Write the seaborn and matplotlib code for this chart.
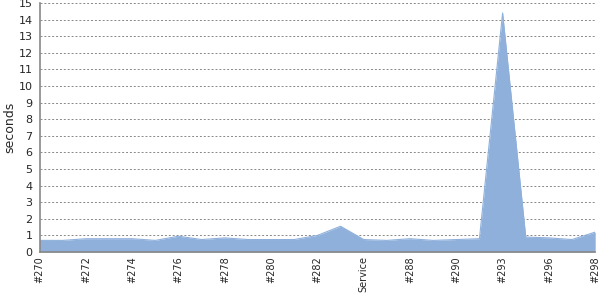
import matplotlib
matplotlib.use("Agg")
import matplotlib.pyplot as plt
import seaborn as sns
import pandas as pd

labels = ["#270", "#271", "#272", "#273", "#274", "#275", "#276", "#277", "#278", "#279",
          "#280", "#281", "#282", "#283", "Service", "#287", "#288", "#289", "#290", "#291",
          "#293", "#294", "#296", "#297", "#298"]
seconds = [0.7, 0.7, 0.8, 0.8, 0.8, 0.7, 0.95, 0.75, 0.85, 0.75,
           0.75, 0.75, 1.0, 1.55, 0.75, 0.7, 0.8, 0.7, 0.75, 0.8,
           14.4, 0.9, 0.85, 0.75, 1.2]

df = pd.DataFrame({"idx": range(len(labels)), "label": labels, "seconds": seconds})

sns.set_style("white")
plt.rcParams['font.family'] = ['DejaVu Sans']

fig = plt.figure(figsize=(6, 3), dpi=100)
ax = fig.add_axes([0.066, 0.16, 0.926, 0.83])

fill = "#8fb0db"
sns.lineplot(data=df, x="idx", y="seconds", ax=ax, color=fill, linewidth=0.8)
ax.fill_between(df["idx"], 0, df["seconds"], color=fill, linewidth=0)

ax.set_xlim(0, len(labels) - 1)
ax.set_ylim(0, 15)
ax.set_yticks(range(0, 16))
ax.tick_params(axis="y", labelsize=8, length=3, color="#888888", pad=2)
shown = list(range(0, len(labels), 2))
ax.set_xticks(shown)
ax.set_xticklabels([labels[i] for i in shown], rotation=90, fontsize=7)
ax.tick_params(axis="x", length=0, pad=3)

for y in range(1, 16):
    ax.axhline(y, color="#888888", linestyle=(0, (2, 2)), linewidth=0.7, zorder=0)

for s in ["top", "right"]:
    ax.spines[s].set_visible(False)
for s in ["left", "bottom"]:
    ax.spines[s].set_color("#888888")
    ax.spines[s].set_linewidth(1.2)

ax.set_xlabel("")
ax.set_ylabel("seconds", fontsize=9)
ax.yaxis.set_label_coords(-0.042, 0.5)

fig.savefig("out.png", dpi=100)
